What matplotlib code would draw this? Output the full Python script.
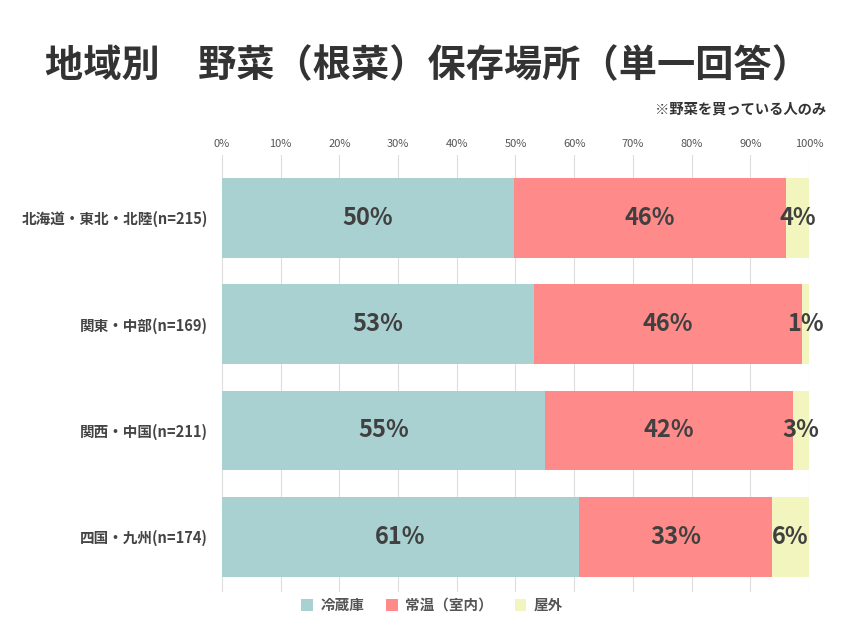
import numpy as np
import matplotlib.pyplot as plt
from matplotlib.patches import Patch

plt.rcParams['font.family'] = ['Noto Sans CJK JP', 'DejaVu Sans']

# Data
regions = ["北海道・東北・北陸(n=215)", "関東・中部(n=169)", "関西・中国(n=211)", "四国・九州(n=174)"]
fridge = [49.8, 53.2, 55.0, 60.8]
room = [46.3, 45.6, 42.3, 32.9]
outside = [3.9, 1.2, 2.7, 6.3]
labels_fridge = ["50%", "53%", "55%", "61%"]
labels_room = ["46%", "46%", "42%", "33%"]
labels_outside = ["4%", "1%", "3%", "6%"]
series_names = ["冷蔵庫", "常温（室内）", "屋外"]
colors = ["#a9d1d1", "#ff8a8a", "#f2f5be"]

fig = plt.figure(figsize=(8.53, 6.4), dpi=100)
ax = fig.add_axes([222 / 853, 1 - 592 / 640, (809 - 222) / 853, (592 - 155) / 640])

y = np.arange(len(regions))
left = np.zeros(len(regions))
all_labels = [labels_fridge, labels_room, labels_outside]
for vals, col, labs in zip([fridge, room, outside], colors, all_labels):
    bars = ax.barh(y, vals, left=left, height=0.75, color=col, zorder=2)
    for b, lab in zip(bars, labs):
        cx = b.get_x() + b.get_width() / 2
        ax.text(cx, b.get_y() + b.get_height() / 2, lab, ha="center", va="center",
                fontsize=17, fontweight="bold", color="#404040", zorder=3)
    left = left + np.array(vals)

ax.set_xlim(0, 100)
ax.set_ylim(3.52, -0.59)
ax.set_xticks(np.arange(0, 101, 10))
ax.set_xticklabels([f"{v}%" for v in range(0, 101, 10)])
ax.xaxis.tick_top()
ax.tick_params(axis="x", length=0, labelsize=8, labelcolor="#555555", pad=4)
ax.set_yticks(y)
ax.set_yticklabels(regions)
ax.tick_params(axis="y", length=0, labelsize=10.5, labelcolor="#444444", pad=10)
for t in ax.get_yticklabels():
    t.set_fontweight("bold")
ax.grid(axis="x", color="#dddddd", linewidth=0.8, zorder=0)
for s in ax.spines.values():
    s.set_visible(False)

fig.text(0.053, 1 - 66 / 640, "地域別　野菜（根菜）保存場所（単一回答）", fontsize=27.5,
         fontweight="bold", color="#333333", va="center")
fig.text(826 / 853, 1 - 110 / 640, "※野菜を買っている人のみ", fontsize=10.3,
         fontweight="bold", color="#333333", ha="right", va="center")

handles = [Patch(facecolor=c, edgecolor="none") for c in colors]
fig.legend(handles, series_names, loc="center", bbox_to_anchor=(432 / 853, 1 - 605 / 640),
           ncol=3, frameon=False, handlelength=0.8, handleheight=0.8,
           handletextpad=0.5, columnspacing=1.5, labelcolor="#555555",
           prop={"weight": "bold", "size": 10.5})

fig.savefig("out.png", dpi=100)
